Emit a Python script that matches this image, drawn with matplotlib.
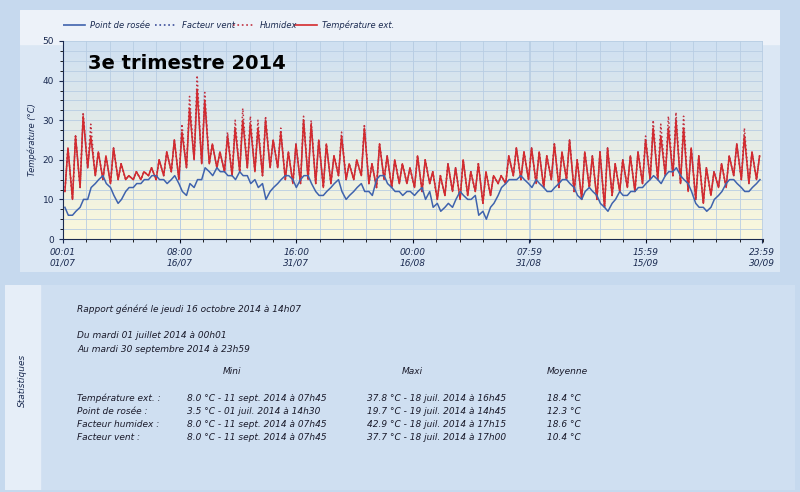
import numpy as np
import matplotlib
matplotlib.use("Agg")
import matplotlib.pyplot as plt
from matplotlib.patches import Rectangle

# daily extremes of outside temperature (01/07 .. 30/09)
t_max = [23,26,31,26,22,21,23,19,16,17,17,18,20,22,25,
         27,33,37.8,35,24,22,26,28,30,29,28,30,25,27,22,24,
         30,29,25,24,21,26,19,20,28,19,24,21,20,19,18,21,20,17,16,19,18,20,17,19,17,16,16,21,23,22,23,
         22,21,24,22,25,20,22,21,22,23,19,20,21,22,25,28,26,28,30,28,23,21,18,17,19,21,24,26,22,21]
t_min = [12,10,13,18,16,15,14,15,15,15,15,16,15,16,17,
         15,18,20,19,19,18,17,16,17,18,17,16,18,18,15,14,
         14,15,14,13,14,16,15,15,16,14,13,15,13,14,14,13,12,14,10,11,12,10,11,12,9,11,14,14,16,15,15,
         14,13,15,13,15,12,10,13,10,8,11,12,13,12,14,15,15,16,16,14,12,10,9,11,13,13,16,15,14,15]
# extra of humidex over temperature at the daily peak
hx_extra = [0,0,1,3,0,0,0,0,0,0,0,0,0,0,0,
            2,3,3.5,2,0,0,1,2,3,2,2,1,0,1,0,0,
            1,1,0,0,0,1,0,0,1,0,0,0,0,0,0,0,0,0,0,0,0,0,0,0,0,0,0,0,0,0,0,
            0,0,0,0,0,0,0,0,0,0,0,0,0,0,1,2,3,3,2,3,0,0,0,0,0,0,0,2,0,0]
# dew point, two readings per day (morning, afternoon)
dew_am = [8,6,8,10,14,16,13,9,12,13,14,15,16,15,15,
          14,11,13,15,17,18,17,16,17,16,15,14,12,14,16,15,
          15,16,12,11,13,15,10,12,14,12,15,16,13,12,12,11,13,12,9,8,8,12,10,11,7,8,11,14,15,16,14,
          15,13,12,14,15,13,10,13,11,8,9,12,11,12,13,15,15,16,17,16,14,9,8,8,11,14,15,13,12,14]
dew_pm = [6,7,10,13,15,14,11,10,13,14,15,16,15,14,16,
          12,14,15,18,16,17,16,15,16,14,13,10,13,15,16,13,
          16,14,11,12,14,12,11,13,12,11,16,14,12,11,12,12,10,8,7,9,10,11,10,6,5,9,13,15,15,15,13,
          14,12,13,15,14,11,12,12,9,7,10,11,12,13,14,16,14,17,18,15,12,8,7,10,12,15,14,12,13,15]

tick_pos = [0, 15.33, 30.67, 46, 61.33, 76.67, 92]
tick_lbl = ["00:01\n01/07", "08:00\n16/07", "16:00\n31/07", "00:00\n16/08",
            "07:59\n31/08", "15:59\n15/09", "23:59\n30/09"]

n = len(t_max)
days = np.arange(n)
tx = np.empty(2 * n); ty = np.empty(2 * n); hy = np.empty(2 * n)
tx[0::2] = days + 0.25; tx[1::2] = days + 0.65
ty[0::2] = t_min; ty[1::2] = t_max
hy[0::2] = t_min; hy[1::2] = np.array(t_max) + np.array(hx_extra)
dx = np.empty(2 * n); dy = np.empty(2 * n)
dx[0::2] = days + 0.25; dx[1::2] = days + 0.7
dy[0::2] = dew_am; dy[1::2] = dew_pm

fig = plt.figure(figsize=(8, 4.92), dpi=100)
fig.patch.set_facecolor('#c6d9ee')
W, H = 800, 492
def fr(x0, y0, x1, y1):
    return [x0 / W, 1 - y1 / H, (x1 - x0) / W, (y1 - y0) / H]

# chart panel background
bg = fig.add_axes(fr(20, 10, 780, 272)); bg.axis('off')
bg.add_patch(Rectangle((0, 0), 1, 1, color='#dbe7f4', transform=bg.transAxes))
bg.add_patch(Rectangle((0, 0.87), 1, 0.13, color='#edf2f9', transform=bg.transAxes))

ax = fig.add_axes(fr(63, 41, 763, 239))
grad = np.linspace(0, 1, 100).reshape(-1, 1)
from matplotlib.colors import LinearSegmentedColormap
cm = LinearSegmentedColormap.from_list('g', ['#fbf8dc', '#cfe0f2'])
ax.imshow(grad, aspect='auto', cmap=cm, extent=[0, 92, 0, 50], origin='lower', zorder=0)
ax.set_xlim(0, 92); ax.set_ylim(0, 50)
ax.set_xticks(np.arange(0, 93, 3.07), minor=True)
ax.set_yticks(np.arange(0, 51, 2.5), minor=True)
ax.grid(which='both', color='#b8cde3', lw=0.6, zorder=1)
ax.set_xticks(tick_pos); ax.set_xticklabels(tick_lbl, fontsize=6.5, style='italic', color='#1a2a50')
ax.set_yticks(range(0, 51, 10))
ax.tick_params(axis='y', labelsize=6.5, colors='#1a2a50', length=3)
ax.tick_params(axis='x', length=3, colors='#1a2a50')
ax.tick_params(which='minor', length=2)
ax.set_ylabel('Température (°C)', fontsize=6, style='italic', color='#1a2a50')
for s in ['top', 'right']:
    ax.spines[s].set_visible(False)
ax.spines['left'].set_color('#1a2a50'); ax.spines['bottom'].set_color('#1a2a50')

ax.plot(tx, ty, ':', color='#3a4d9a', lw=1.0, zorder=2)
ax.plot(tx, hy, ':', color='#c03040', lw=1.1, zorder=3)
ax.plot(tx, ty, '-', color='#d42a2e', lw=1.1, zorder=4)
ax.plot(dx, dy, '-', color='#3f63ad', lw=1.1, zorder=5)
ax.text(0.035, 0.86, '3e trimestre 2014', transform=ax.transAxes, fontsize=14,
        fontweight='bold', color='black', zorder=6)

# legend row
lg = fig.add_axes(fr(63, 14, 420, 36)); lg.axis('off'); lg.set_xlim(0, 357); lg.set_ylim(0, 1)
items = [(0, '-', '#3f63ad', 'Point de rosée'), (92, ':', '#3a4d9a', 'Facteur vent'),
         (170, ':', '#c03040', 'Humidex'), (232, '-', '#d42a2e', 'Température ext.')]
for x0, ls, c, lab in items:
    lg.plot([x0, x0 + 22], [0.5, 0.5], ls, color=c, lw=1.2)
    lg.text(x0 + 27, 0.5, lab, va='center', fontsize=6, style='italic', color='#1a2a50')

# statistics panel
st = fig.add_axes(fr(5, 285, 795, 490)); st.axis('off'); st.set_xlim(5, 795); st.set_ylim(490, 285)
st.add_patch(Rectangle((5, 285), 790, 205, color='#cfdff1'))
st.add_patch(Rectangle((5, 285), 35, 205, color='#e6eef8'))
st.text(22, 380, 'Statistiques', rotation=90, ha='center', va='center', fontsize=6.5, style='italic', color='#1a2a50')
kw = dict(fontsize=6.5, style='italic', color='#1a1a2a', va='center')
st.text(77, 309, 'Rapport généré le jeudi 16 octobre 2014 à 14h07', **kw)
st.text(77, 336, 'Du mardi 01 juillet 2014 à 00h01', **kw)
st.text(77, 349, 'Au mardi 30 septembre 2014 à 23h59', **kw)
st.text(232, 372, 'Mini', ha='center', **{k: v for k, v in kw.items()})
st.text(412, 372, 'Maxi', ha='center', **kw)
st.text(567, 372, 'Moyenne', ha='center', **kw)
rows = [("Température ext. :", "8.0 °C - 11 sept. 2014 à 07h45", "37.8 °C - 18 juil. 2014 à 16h45", "18.4 °C"),
        ("Point de rosée :", "3.5 °C - 01 juil. 2014 à 14h30", "19.7 °C - 19 juil. 2014 à 14h45", "12.3 °C"),
        ("Facteur humidex :", "8.0 °C - 11 sept. 2014 à 07h45", "42.9 °C - 18 juil. 2014 à 17h15", "18.6 °C"),
        ("Facteur vent :", "8.0 °C - 11 sept. 2014 à 07h45", "37.7 °C - 18 juil. 2014 à 17h00", "10.4 °C")]
for i, r in enumerate(rows):
    y = 398 + i * 13
    st.text(77, y, r[0], **kw); st.text(187, y, r[1], **kw)
    st.text(367, y, r[2], **kw); st.text(547, y, r[3], **kw)

fig.savefig('out.png', dpi=100, facecolor=fig.get_facecolor())
